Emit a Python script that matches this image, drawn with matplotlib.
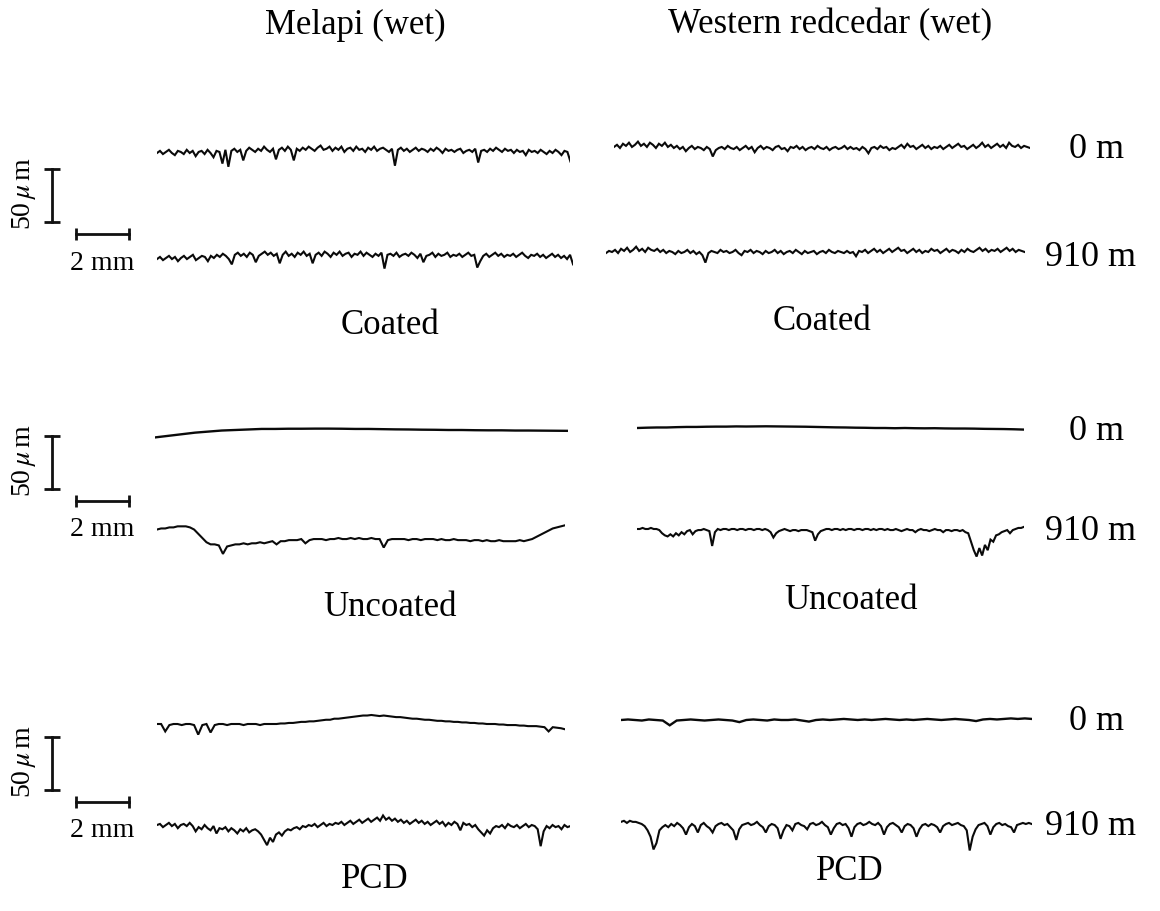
import matplotlib
matplotlib.use('Agg')
import matplotlib.pyplot as plt
import numpy as np

plt.rcParams['font.family'] = ['Liberation Serif', 'DejaVu Serif']
plt.rcParams['mathtext.fontset'] = 'stix'

W, H = 1160, 912
PX_MM = 26.5   # pixels per mm along the track
PX_UM = 1.06   # pixels per micron of height

species = ['Melapi (wet)', 'Western redcedar (wet)']
conditions = ['Coated', 'Uncoated', 'PCD']
distances = ['0 m', '910 m']

# surface profiles, heights in micrometres
coated_melapi_0 = [
    0, 2, -1, 1, 3, 0, -2, 2, 1, -1, 3, 0, 2, -3, 1, 2, -1, 3, 0, -4,
    2, 1, -10, 3, -13, 2, 4, 1, 3, -7, 2, 5, 3, 1, 4, 2, 6, 3, 1, 4,
    -6, 3, 5, 2, 6, 3, -7, 4, 2, 5, 3, 6, 4, 2, 5, 7, 3, 4, 6, 2,
    5, 3, 6, 1, 4, 5, 2, 6, 3, 4, 1, 5, 3, 6, 2, 4, 5, 3, 1, 4,
    -12, 3, 5, 2, 4, 1, 3, 5, 2, 4, 3, 1, 4, 2, 5, 3, 0, 4, 2, 3,
    1, 3, 4, 0, 2, 3, 1, 4, -9, 2, 3, 1, 4, 2, 5, 3, 1, 4, 2, 3,
    0, 3, 1, 2, -2, 3, 1, 2, 0, 3, 1, -1, 2, 0, 3, 1, -2, 2, 1, -8]
coated_melapi_910 = [
    -1, 1, -2, 0, 2, -1, 1, -3, 0, 2, -1, 1, 3, -2, 0, 2, 1, -3, 2, 0,
    3, 1, 4, 2, -1, -6, 3, 5, 2, 4, 1, 5, 3, -4, 2, 4, 6, 3, 5, 2,
    4, -5, 3, 6, 2, 4, 1, 5, 3, 6, 2, 4, -5, 3, 5, 2, 6, 4, 1, 5,
    3, 6, 2, 4, 5, 1, 4, 3, 6, 2, 5, 3, 1, 4, 2, 5, -10, 3, 4, 2,
    5, 1, 3, 4, 2, 5, 3, 0, 4, -4, 2, 3, 5, 1, 4, 2, 3, 5, 1, 3,
    2, 4, 1, 3, 5, 2, 3, -9, -3, 2, 4, 1, 3, 5, 2, 4, 1, 3, 2, 4,
    1, 3, 5, 2, 0, 3, 2, 4, 1, 3, 0, 2, 4, 1, 3, 0, 2, -1, 3, -6]
coated_cedar_0 = [
    1, 3, 0, 4, 2, 5, 1, 3, 6, 2, 4, 1, 5, 3, 0, 4, 2, 5, 1, 3,
    0, 2, -1, 1, -3, 0, 2, -1, 1, 0, -2, 1, -1, -8, -2, 0, 1, -1, 2, 0,
    -1, 1, -2, 0, 2, -1, 1, -4, 0, 2, -1, 1, 0, -2, 1, 2, -1, 0, -3, 1,
    0, 2, -1, 1, -2, 0, 1, -1, 2, 0, -1, 1, -2, 0, 1, -1, 0, 2, -1, 1,
    -1, 0, -2, 1, -1, -5, 0, 1, -1, 2, 0, 1, -2, 0, -1, 1, 3, 0, 4, 1,
    2, -1, 1, 3, 0, 2, -1, 1, 0, 2, -1, 1, 3, 0, 2, 4, 1, 2, -1, 1,
    3, 0, 2, 5, 1, 3, 0, 2, 4, 1, 3, 0, 5, 2, 1, 3, 0, 2, 1, 0]
coated_cedar_910 = [
    -1, 1, 0, 2, -1, 3, 1, 4, 0, 2, 5, 1, 3, 0, 4, 2, 1, 3, 0, 2,
    -1, 1, 0, -2, 1, -1, 0, 2, -1, 1, -2, 0, -3, -10, -1, 1, 0, -1, 2, 0,
    1, -1, 0, 2, -1, -3, 1, 0, 2, -1, 1, 0, -2, 1, -1, 0, 2, -1, 1, -2,
    0, 1, -1, 2, 0, -2, 1, -1, 0, 1, -2, 0, 1, -1, 2, 0, -1, 1, 0, -1,
    1, -1, 0, -4, 1, 0, 2, -1, 1, 3, 0, 2, -1, 1, 3, 0, 2, 4, 1, 2,
    -1, 1, 3, 0, 2, -1, 1, 0, 3, 1, 2, -1, 1, 3, 0, 2, 1, -1, 2, 0,
    3, 1, 0, 2, 4, 1, 3, 0, 2, 1, 3, 0, 2, 4, 1, 3, 0, 2, 1, 0]

uncoated_melapi_0 = [
    -7, -5.5, -4, -2.5, -1.5, -0.5, 0, 0.5, 1, 1, 1.2, 1.2, 1.3, 1.3, 1.2, 1,
    1, 0.8, 0.6, 0.5, 0.3, 0.2, 0, 0, -0.2, -0.3, -0.3, -0.5, -0.5, -0.6, -0.7, -0.8]
uncoated_melapi_910 = [
    8, 9, 9, 10, 10, 11, 11, 11, 10, 8, 4, 0, -4, -6, -6, -7, -15, -8, -7, -6,
    -6, -5, -6, -5, -5, -4, -5, -4, -3, -6, -3, -3, -2, -2, -2, -1, -5, -2, -1, -1,
    -1, -2, -1, -1, 0, -1, -1, 0, -1, 0, -1, -1, 0, -1, -1, -9, -2, -1, -1, -1,
    -1, -2, -1, -1, -2, -1, -1, -1, -2, -1, -2, -2, -1, -2, -2, -2, -3, -2, -2, -3,
    -2, -3, -3, -2, -3, -3, -3, -3, -2, -3, -2, -1, 1, 3, 5, 7, 9, 10, 11, 12]
uncoated_cedar_0 = [
    0, 0.3, 0.5, 0.5, 0.8, 1, 1, 1.2, 1.3, 1.3, 1.5, 1.4, 1.5, 1.6, 1.5, 1.4, 1.3, 1.2, 1, 0.8,
    0.6, 0.5, 0.3, 0.2, 0, 0, -0.2, 0, -0.2, -0.3, -0.2, -0.4, -0.5, -0.5, -0.6, -0.8, -0.9, -1, -1.2, -1.5]
uncoated_cedar_910 = [
    0, 0, 1, 0, 0, 1, 0, 0, -1, -4, -6, -7, -5, -7, -4, -6, -3, -5, -2, -1,
    -5, -2, -1, -1, 0, -1, -2, -16, -3, 0, -1, 0, 0, -1, 0, 0, -1, 0, 0, -1,
    0, 0, -1, 0, 0, -1, 0, -1, -3, -8, -4, -2, -1, 0, -1, -2, -1, -1, -2, -1,
    -1, -1, -2, -3, -11, -5, -2, -1, 0, 0, -1, 0, 0, -1, 0, -1, 0, 0, -1, 0,
    0, -1, 0, 0, -1, 0, -1, 0, 0, -1, 0, -1, -1, 0, -1, -2, -1, 0, -1, -1,
    -3, -1, 0, -1, -1, -2, -1, 0, -1, -1, -3, -1, -1, -2, -1, -1, -2, -1, -3, -4,
    -12, -20, -26, -18, -25, -15, -20, -10, -12, -6, -5, -3, -2, -1, -4, -1, 0, 1, 1, 2]

pcd_melapi_0 = [
    0, 0, -7, -1, 0, 0, -1, 0, 0, -1, -10, -1, 0, -8, -1, 0, 0, -1, 0, 0,
    0, -1, 0, 0, 0, -1, 0, 0, 0, 0, 0.5, 0.5, 1, 1, 1.5, 2, 2, 2.5, 2.5, 3,
    3.5, 4, 4, 5, 5, 5.5, 6, 6.5, 7, 7.5, 8, 8, 8.5, 8, 7.5, 8, 7.5, 7, 6.5, 6.5,
    6, 5.5, 5, 5, 4.5, 4, 4, 3.5, 3, 3, 2.5, 2.5, 2, 2, 1.5, 1.5, 1, 1, 0.5, 0.5,
    0, 0, 0, -0.5, -0.5, -1, -1, -1, -1.5, -1.5, -2, -2, -2, -2.5, -3, -7, -3, -3.5, -4, -5]
pcd_melapi_910 = [
    0, 1, -2, 0, 2, -1, 1, -3, 0, 1, -1, 2, -1,
    -6, -2, -4, 0, -3, -5, -1, -8, -3, -4, -2, -6, -3,
    -5, -8, -4, -6, -3, -7, -5, -4, -6, -9, -14, -19,
    -12, -16, -9, -7, -10, -6, -4, -5,
    -3, -2, -4, -1, -2, 0, -1, 1, -2, 0, 2, -1, 1, 0, 2,
    1, 3, 0, 2, 4, 1, 3, 5, 2, 4, 6, 3, 5, 7, 4,
    9, 5, 7, 4, 6, 3, 5,
    2, 4, 1, 3, 5, 2, 4, 1, 3, 0, 2, 4, 1, 3, -1, 2, 0, 3, 1, -5, 2, 0, 1,
    -2, 0, -4, -7, -10, -5, -8, -3, -1, -2,
    0, -3, 1, -1, -2, 0, -3, -1, 1, -2, 0, -1, -4, -20, -6, -1, -3, 0, -2, -1, -4, 0, -2, -1]
pcd_cedar_0 = [
    0, 0.5, 0, -0.5, 0.5, 0, -0.5, -5, -0.5, 0, 0.5, 0, -0.5, 0, 0.5, 0, -0.5, -2, 0, 0.5,
    0, -0.5, 0.5, 0, 0, 0.5, -0.5, -1.5, 0, 0.5, 0, 0.5, 1, 0.5, 0, 0.5, 0, 0.5, 1, 0.5,
    0, 0.5, 0, 0.5, 1, 0.5, 0, 0.5, 1, 0.5, 0, -1, 0.5, 1, 0.5, 1, 1.5, 1, 1.5, 1]
pcd_cedar_910 = [
    2, 3, 1, 3, 2, 2, 1, 0, -2, -6, -12, -24, -18, -6, -3, -1, -3, 0, -2, 1,
    -1, -4, -10, -3, 0, -2, -8, -1, 1, -2, -4, -8, -2, 0, 1, -1, 0, -3, -6, -15,
    -5, -1, 0, 1, -1, 0, 2, -1, -3, -8, -2, 0, -1, -4, -14, -6, -1, -2, -6, 0,
    1, -1, -2, -5, 0, 1, -1, 0, 2, -1, -3, -10, -4, 0, 1, -1, 0, -4, -12, -3,
    0, 1, -1, 0, 2, 0, -1, 1, -2, -10, -3, 0, 1, -1, -3, -8, -2, 0, -1, -4,
    -12, -5, -1, 0, -2, 0, -1, -3, -8, -2, 0, 1, -1, 0, 1, -1, -2, -6, -25, -12,
    -5, -1, 0, 1, -2, -10, -3, 0, 1, -1, 0, -2, -3, -8, -1, 0, 1, 0, 1, 0]

profiles = [
    [[coated_melapi_0, coated_melapi_910], [coated_cedar_0, coated_cedar_910]],
    [[uncoated_melapi_0, uncoated_melapi_910], [uncoated_cedar_0, uncoated_cedar_910]],
    [[pcd_melapi_0, pcd_melapi_910], [pcd_cedar_0, pcd_cedar_910]],
]
# track lengths in mm
lengths = [[[15.6, 15.7], [15.7, 15.8]],
           [[15.6, 15.4], [14.6, 14.6]],
           [[15.4, 15.6], [15.5, 15.5]]]

# layout in pixels
starts = [[[157, 157], [614, 606]],
          [[155, 157], [637, 637]],
          [[157, 157], [621, 621]]]
levels = [[[154, 259], [149, 253]],
          [[431, 539], [429, 530]],
          [[725, 826], [721, 825]]]
label_y = [[150, 258], [432, 531], [722, 827]]
cond_pos = [[(390, 326), (822, 322)], [(390, 607), (851, 601)], [(375, 880), (850, 872)]]
bar_top = [170, 437, 738]

fig = plt.figure(figsize=(W / 100, H / 100), dpi=100)


def px_axes(x0, y0, w, h):
    ax = fig.add_axes([x0 / W, 1 - (y0 + h) / H, w / W, h / H])
    ax.axis('off')
    return ax


def ftext(x, y, s, **kw):
    fig.text(x / W, 1 - y / H, s, ha='center', va='center', **kw)


for j, name in enumerate(species):
    ftext([355, 830][j], 25, name, fontsize=25)

for s in range(3):
    for j in range(2):
        for k in range(2):
            vals = np.array(profiles[s][j][k], dtype=float)
            L = lengths[s][j][k]
            half = 45
            ax = px_axes(starts[s][j][k], levels[s][j][k] - half, L * PX_MM, 2 * half)
            ax.set_xlim(0, L)
            ax.set_ylim(-half / PX_UM, half / PX_UM)
            x = np.linspace(0, L, len(vals))
            lw = 1.7 if len(vals) < 100 else 1.5
            ax.plot(x, vals, color='#0a0a0a', lw=lw, solid_joinstyle='miter')
        ftext(cond_pos[s][j][0], cond_pos[s][j][1], conditions[s], fontsize=25)
    for k in range(2):
        ftext([1097, 1091][k], label_y[s][k], distances[k], fontsize=26)

    # scale bars: 50 um vertical, 2 mm horizontal
    top = bar_top[s]
    bar_px = 50 * PX_UM
    ax = px_axes(30, top - 10, 120, bar_px + 30)
    ax.set_xlim((30 - 52) / PX_MM, (150 - 52) / PX_MM)
    ax.set_ylim(-20 / PX_UM, (bar_px + 10) / PX_UM)
    ax.plot([0, 0], [0, 50], color='#111111', lw=2)
    ax.plot([0, 0], [0, 50], ls='none', marker='_', ms=11, mew=2, color='#111111')
    hx = (76 - 52) / PX_MM
    hy = -12 / PX_UM
    ax.plot([hx, hx + 2], [hy, hy], color='#111111', lw=2)
    ax.plot([hx, hx + 2], [hy, hy], ls='none', marker='|', ms=9, mew=2, color='#111111')
    ftext(102, top + bar_px + 40, '2 mm', fontsize=20)
    ftext(24, top + bar_px / 2 - 3, r'50$\,\mu\,$m', fontsize=20, rotation=90)

fig.savefig('out.png', dpi=100)
